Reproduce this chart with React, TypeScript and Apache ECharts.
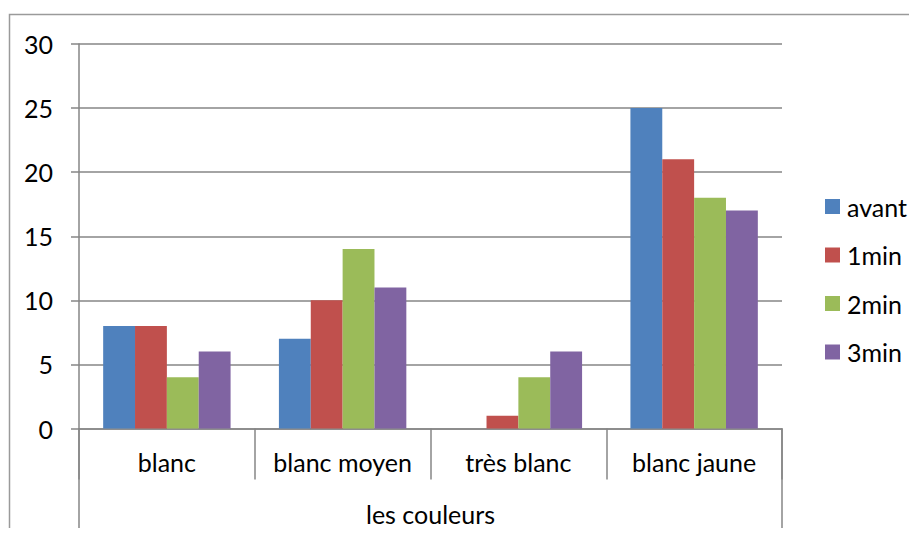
import React, { useEffect, useRef } from "react";
import * as echarts from "echarts";

// Colour categories and the four measurement times
const categories = ["blanc", "blanc moyen", "très blanc", "blanc jaune"];
const seriesNames = ["avant", "1min", "2min", "3min"];
const avant = [8, 7, 0, 25];
const min1 = [8, 10, 1, 21];
const min2 = [4, 14, 4, 18];
const min3 = [6, 11, 6, 17];
const axisTitle = ["les couleurs"];

const colors = ["#4F81BD", "#C0504D", "#9BBB59", "#8064A2"];
const FONT = "Lato, 'Open Sans', sans-serif";
const GREY = "#868686";
const FS = 25;

export default function App() {
  const ref = useRef<HTMLDivElement>(null);

  useEffect(() => {
    if (!ref.current) return;
    const chart = echarts.init(ref.current, undefined, { renderer: "svg" });
    const values = [avant, min1, min2, min3];
    chart.setOption({
      animation: false,
      textStyle: { fontFamily: FONT },
      color: colors,
      grid: { left: 79, top: 44, right: 135, bottom: 107.5, containLabel: false },
      graphic: [
        {
          type: "rect",
          shape: { x: 9.5, y: 14.5, width: 1000, height: 1000 },
          style: { fill: "none", stroke: "#9a9a9a", lineWidth: 1.5 },
          silent: true,
        },
      ],
      legend: {
        orient: "vertical",
        left: 825,
        top: 194,
        padding: 0,
        itemWidth: 15,
        itemHeight: 15,
        itemGap: 23.5,
        icon: "rect",
        data: seriesNames,
        textStyle: {
          fontFamily: FONT,
          fontSize: FS,
          color: "#000",
          lineHeight: 25,
          padding: [0, 0, 0, 2],
        },
      },
      xAxis: [
        {
          type: "category",
          data: categories,
          position: "bottom",
          axisLine: { show: true, lineStyle: { color: GREY, width: 1.5 } },
          axisTick: {
            show: true,
            interval: 0,
            alignWithLabel: false,
            length: 51,
            lineStyle: { color: GREY, width: 1.5 },
          },
          axisLabel: {
            interval: 0,
            margin: 21,
            fontSize: FS,
            color: "#000",
            fontFamily: FONT,
          },
        },
        {
          type: "category",
          data: axisTitle,
          position: "bottom",
          gridIndex: 0,
          axisLine: { show: false },
          axisTick: {
            show: true,
            interval: 0,
            alignWithLabel: false,
            length: 102,
            lineStyle: { color: GREY, width: 1.5 },
          },
          axisLabel: {
            interval: 0,
            margin: 73,
            fontSize: FS,
            color: "#000",
            fontFamily: FONT,
          },
        },
      ],
      yAxis: {
        type: "value",
        min: 0,
        max: 30,
        interval: 5,
        axisLine: { show: true, lineStyle: { color: GREY, width: 1.5 } },
        axisTick: { show: true, length: 8, lineStyle: { color: GREY, width: 1.5 } },
        splitLine: { show: true, lineStyle: { color: GREY, width: 1.5 } },
        axisLabel: {
          margin: 26,
          fontSize: FS,
          color: "#000",
          fontFamily: FONT,
        },
      },
      series: seriesNames.map((name, i) => ({
        name,
        type: "bar",
        xAxisIndex: 0,
        data: values[i],
        barGap: "0%",
        barCategoryGap: "27.5%",
        itemStyle: { color: colors[i] },
      })),
    });
    return () => chart.dispose();
  }, []);

  return <div ref={ref} style={{ width: 917, height: 536, margin: -8 }} />;
}
